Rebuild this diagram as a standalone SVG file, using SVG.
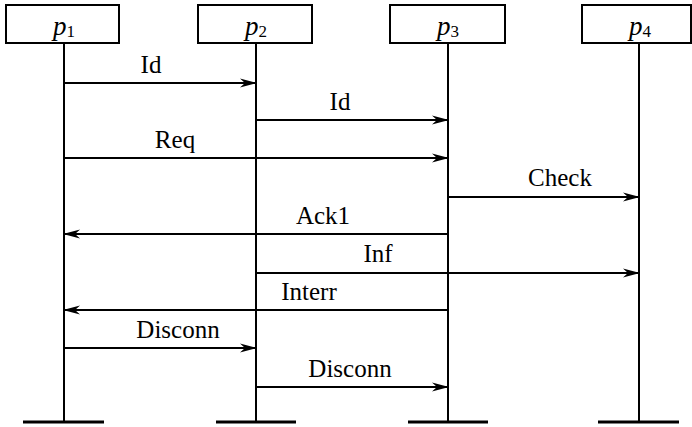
<svg xmlns="http://www.w3.org/2000/svg" width="692" height="427" viewBox="0 0 692 427">
<defs>
<style>
.box{fill:#fff;stroke:#000;stroke-width:2}
.life{stroke:#000;stroke-width:2;fill:none}
.bar{stroke:#000;stroke-width:3}
.msg{stroke:#000;stroke-width:2;fill:none}
.lbl{font-family:"Liberation Serif","DejaVu Serif",serif;font-size:25px;fill:#000;text-anchor:middle}
.pl{font-family:"Liberation Serif","DejaVu Serif",serif;font-size:27px;font-style:italic;fill:#000;text-anchor:middle}
.sub{font-style:normal;font-size:17px}
</style>
<marker id="ah" viewBox="0 0 17 10" refX="16" refY="5" markerWidth="17" markerHeight="10" markerUnits="userSpaceOnUse" orient="auto">
<path d="M0,0.5 L17,5 L0,9.5 L5,5 Z" fill="#000"/>
</marker>
</defs>
<rect width="692" height="427" fill="#fff"/>
<g id="p1">
<rect class="box" x="6" y="5" width="113" height="38"/>
<text class="pl" x="64" y="35">p<tspan class="sub" dy="2">1</tspan></text>
<line class="life" x1="64" y1="43" x2="64" y2="422"/>
<line class="bar" x1="23" y1="422" x2="104" y2="422"/>
</g>
<g id="p2">
<rect class="box" x="198" y="5" width="114" height="38"/>
<text class="pl" x="256" y="35">p<tspan class="sub" dy="2">2</tspan></text>
<line class="life" x1="256" y1="43" x2="256" y2="422"/>
<line class="bar" x1="216" y1="422" x2="296" y2="422"/>
</g>
<g id="p3">
<rect class="box" x="390" y="5" width="115" height="38"/>
<text class="pl" x="448" y="35">p<tspan class="sub" dy="2">3</tspan></text>
<line class="life" x1="448" y1="43" x2="448" y2="422"/>
<line class="bar" x1="408" y1="422" x2="488" y2="422"/>
</g>
<g id="p4">
<rect class="box" x="582" y="5" width="109" height="38"/>
<text class="pl" x="640" y="35">p<tspan class="sub" dy="2">4</tspan></text>
<line class="life" x1="639" y1="43" x2="639" y2="422"/>
<line class="bar" x1="598" y1="422" x2="679" y2="422"/>
</g>
<g id="connectors">
<line class="msg" x1="64" y1="83" x2="256" y2="83" marker-end="url(#ah)"/>
<text class="lbl" x="151" y="73">Id</text>
<line class="msg" x1="256" y1="120" x2="448" y2="120" marker-end="url(#ah)"/>
<text class="lbl" x="340" y="110">Id</text>
<line class="msg" x1="64" y1="158" x2="448" y2="158" marker-end="url(#ah)"/>
<text class="lbl" x="175" y="148">Req</text>
<line class="msg" x1="448" y1="197" x2="639" y2="197" marker-end="url(#ah)"/>
<text class="lbl" x="560" y="186">Check</text>
<line class="msg" x1="448" y1="234" x2="64" y2="234" marker-end="url(#ah)"/>
<text class="lbl" x="323" y="224">Ack1</text>
<line class="msg" x1="256" y1="273" x2="639" y2="273" marker-end="url(#ah)"/>
<text class="lbl" x="378" y="262">Inf</text>
<line class="msg" x1="448" y1="310" x2="64" y2="310" marker-end="url(#ah)"/>
<text class="lbl" x="309" y="300">Interr</text>
<line class="msg" x1="64" y1="348" x2="256" y2="348" marker-end="url(#ah)"/>
<text class="lbl" x="178" y="338">Disconn</text>
<line class="msg" x1="256" y1="387" x2="448" y2="387" marker-end="url(#ah)"/>
<text class="lbl" x="350" y="377">Disconn</text>
</g>
</svg>
